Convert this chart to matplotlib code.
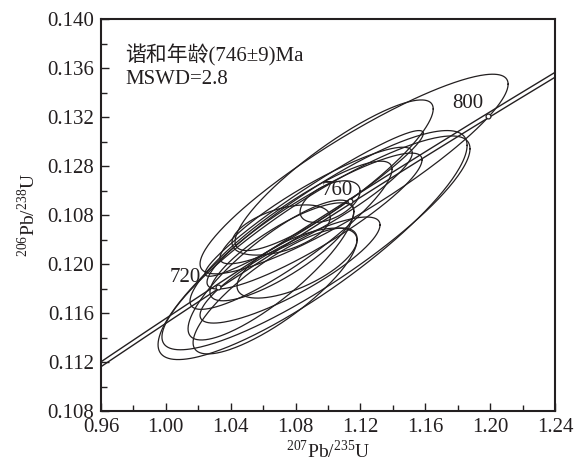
import numpy as np
import matplotlib
matplotlib.use('Agg')
import matplotlib.pyplot as plt
from matplotlib.ticker import MultipleLocator, FixedLocator

plt.rcParams['font.family'] = ['Liberation Serif', 'Noto Sans CJK SC']
plt.rcParams['mathtext.fontset'] = 'custom'
plt.rcParams['mathtext.rm'] = 'Liberation Serif'

# 误差椭圆: 中心, 半轴(x, y), 相关系数
ell_cx = [1.1161, 1.1038, 1.0905, 1.0926, 1.0915, 1.0917, 1.0772, 1.1013, 1.0711, 1.0716, 1.0674, 1.0809, 1.0648, 1.0927, 1.0766]
ell_cy = [0.12735, 0.12725, 0.12155, 0.12173, 0.12495, 0.12351, 0.12235, 0.12510, 0.12278, 0.1210, 0.11780, 0.12008, 0.11951, 0.12478, 0.11951]
ell_ax = [0.0950, 0.0611, 0.0953, 0.0950, 0.0673, 0.0663, 0.0623, 0.0185, 0.0303, 0.0444, 0.0506, 0.0370, 0.0511, 0.0593, 0.0555]
ell_ay = [0.00815, 0.00615, 0.00935, 0.00873, 0.00595, 0.00555, 0.00605, 0.00170, 0.00205, 0.0040, 0.00514, 0.00286, 0.00571, 0.00476, 0.00433]
ell_rho = [0.90, 0.88, 0.87, 0.88, 0.96, 0.90, 0.89, 0.50, 0.50, 0.82, 0.82, 0.66, 0.84, 0.90, 0.85]

age_marks = [720, 760, 800]
band = 0.0002

y_ticks = [0.108, 0.112, 0.116, 0.120, 0.124, 0.128, 0.132, 0.136, 0.140]
y_labels = ['0.108', '0.112', '0.116', '0.120', '0.108', '0.128', '0.132', '0.136', '0.140']

l238 = 1.55125e-10
l235 = 9.8485e-10

def concordia(t_ma):
    t = np.asarray(t_ma) * 1e6
    return np.exp(l235 * t) - 1, np.exp(l238 * t) - 1

fig = plt.figure(figsize=(5.79, 4.66), dpi=100)
ax = fig.add_axes([0.1744, 0.118, 0.7841, 0.841])

tt = np.linspace(600, 900, 400)
cx_, cy_ = concordia(tt)
ax.plot(cx_, cy_ + band, color='#231f20', lw=1.0)
ax.plot(cx_, cy_ - band, color='#231f20', lw=1.0)

th = np.linspace(0, 2 * np.pi, 300)
for cx, cy, a, b, r in zip(ell_cx, ell_cy, ell_ax, ell_ay, ell_rho):
    xs = cx + a * np.cos(th)
    ys = cy + b * (r * np.cos(th) + np.sqrt(1 - r * r) * np.sin(th))
    ax.plot(xs, ys, color='#231f20', lw=0.9)

mx, my = concordia(age_marks)
ax.plot(mx, my, 'o', ms=3.5, mfc='white', mec='#231f20', mew=0.9)
offs = [(-12, 6.5), (1.5, 8), (-3.5, 8.5)]
for a, x, y, o in zip(age_marks, mx, my, offs):
    ax.annotate(str(a), (x, y), xytext=o, textcoords='offset points',
                ha='right', va='center', fontsize=15, color='#231f20')

ax.text(0.053, 0.908, '谐和年龄(746±9)Ma', transform=ax.transAxes, fontsize=15, color='#231f20', va='center')
ax.text(0.053, 0.847, 'MSWD=2.8', transform=ax.transAxes, fontsize=15, color='#231f20', va='center')

ax.set_xlim(0.96, 1.24)
ax.set_ylim(0.108, 0.140)
ax.xaxis.set_major_locator(MultipleLocator(0.04))
ax.xaxis.set_minor_locator(MultipleLocator(0.02))
ax.xaxis.set_major_formatter(plt.FormatStrFormatter('%.2f'))
ax.yaxis.set_major_locator(FixedLocator(y_ticks))
ax.set_yticklabels(y_labels)
ax.yaxis.set_minor_locator(MultipleLocator(0.002))
ax.tick_params(which='both', direction='in', top=False, right=False, labelsize=15, colors='#231f20', width=1.0)
ax.tick_params(which='major', length=6, pad=5)
ax.tick_params(which='minor', length=4)
for s in ax.spines.values():
    s.set_linewidth(1.5)
    s.set_color('#231f20')

ax.set_xlabel(r'$^{207}$Pb/$^{235}$U', fontsize=14, labelpad=2, color='#231f20')
ax.set_ylabel(r'$^{206}$Pb/$^{238}$U', fontsize=14, labelpad=6, color='#231f20')

fig.savefig('out.png', dpi=100)
